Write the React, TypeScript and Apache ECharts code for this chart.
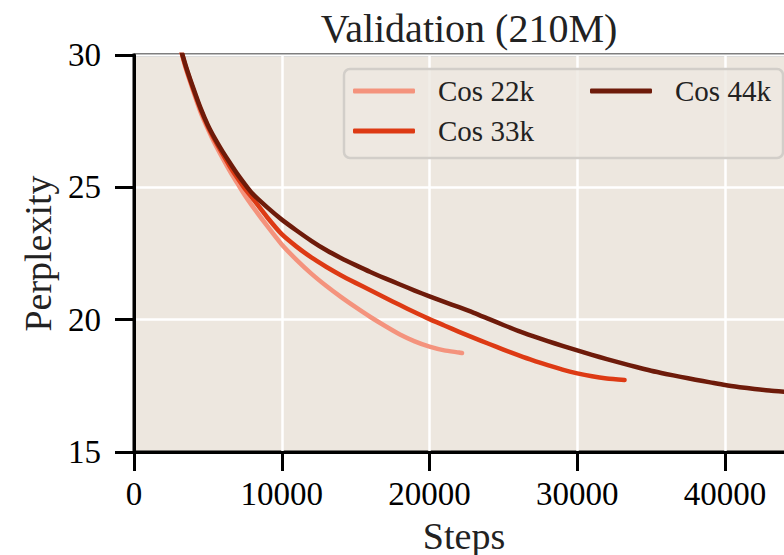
import React, { useEffect, useRef } from "react";
import * as echarts from "echarts";

const seriesNames = ["Cos 22k", "Cos 33k", "Cos 44k"];
const seriesColors = ["#f4937d", "#dd3a14", "#6e1b0a"];

const cos22kSteps = [3000, 3500, 4000, 4500, 5000, 5500, 6000, 6500, 7000, 7500, 8000, 9000, 10000, 11000, 12000, 13000, 14000, 15000, 16000, 17000, 18000, 19000, 20000, 21000, 22000, 22200];
const cos22kPpl = [30.55, 29.5, 28.65, 27.85, 27.2, 26.62, 26.1, 25.6, 25.15, 24.7, 24.3, 23.55, 22.84, 22.26, 21.74, 21.28, 20.86, 20.47, 20.1, 19.76, 19.44, 19.18, 18.98, 18.84, 18.76, 18.74];

const cos33kSteps = [3000, 3500, 4000, 4500, 5000, 5500, 6000, 6500, 7000, 7500, 8000, 9000, 10000, 11000, 12000, 13000, 14000, 15000, 16000, 17000, 18000, 19000, 20000, 21000, 22000, 23000, 24000, 25000, 26000, 27000, 28000, 29000, 30000, 31000, 32000, 33200];
const cos33kPpl = [30.55, 29.55, 28.72, 27.95, 27.3, 26.75, 26.25, 25.78, 25.35, 24.95, 24.6, 23.88, 23.23, 22.76, 22.35, 22.0, 21.68, 21.39, 21.11, 20.83, 20.55, 20.28, 20.02, 19.78, 19.54, 19.31, 19.09, 18.87, 18.66, 18.46, 18.28, 18.11, 17.97, 17.86, 17.78, 17.72];

const cos44kSteps = [3000, 3500, 4000, 4500, 5000, 5500, 6000, 6500, 7000, 7500, 8000, 9000, 10000, 11000, 12000, 13000, 14000, 15000, 16000, 17000, 18000, 19000, 20000, 21000, 22000, 23000, 24000, 25000, 26000, 27000, 28000, 29000, 30000, 31000, 32000, 33000, 34000, 35000, 36000, 37000, 38000, 39000, 40000, 41000, 42000, 43000, 44000];
const cos44kPpl = [30.55, 29.6, 28.77, 28.0, 27.35, 26.82, 26.35, 25.92, 25.5, 25.12, 24.77, 24.25, 23.78, 23.37, 22.98, 22.63, 22.33, 22.06, 21.8, 21.56, 21.33, 21.1, 20.88, 20.67, 20.47, 20.26, 20.03, 19.8, 19.58, 19.38, 19.19, 19.01, 18.84, 18.67, 18.51, 18.36, 18.21, 18.07, 17.95, 17.84, 17.73, 17.63, 17.53, 17.45, 17.38, 17.32, 17.28];

const stepsList = [cos22kSteps, cos33kSteps, cos44kSteps];
const pplList = [cos22kPpl, cos33kPpl, cos44kPpl];

const FONT = "Liberation Serif";

export default function App() {
  const ref = useRef<HTMLDivElement>(null);
  useEffect(() => {
    if (!ref.current) return;
    const chart = echarts.init(ref.current, null, { renderer: "svg" });
    const series = seriesNames.map((name, i) => ({
      name,
      type: "line",
      data: stepsList[i].map((s, j) => [s, pplList[i][j]]),
      showSymbol: false,
      symbol: "none",
      smooth: 0.2,
      clip: true,
      lineStyle: { color: seriesColors[i], width: 4.5, cap: "round", join: "round" },
      itemStyle: { color: seriesColors[i] },
      z: 2 + i,
    }));
    const legendBase = {
      orient: "vertical",
      top: 71,
      itemWidth: 62,
      itemHeight: 5,
      itemGap: 10,
      icon: "roundRect",
      textStyle: { fontFamily: FONT, fontSize: 29, color: "#222", lineHeight: 30, padding: [0, 0, 0, 18] },
      z: 10,
    };
    chart.setOption({
      animation: false,
      title: {
        text: "Validation (210M)",
        left: 464,
        top: 3,
        textAlign: "center",
        textStyle: { fontFamily: FONT, fontSize: 40, fontWeight: "normal", color: "#222" },
      },
      grid: {
        left: 134,
        top: 55,
        width: 660,
        height: 397,
        outerBoundsMode: "none",
        containLabel: false,
        show: true,
        backgroundColor: "#ede7df",
        borderColor: "#000",
        borderWidth: 3,
      },
      legend: [
        { ...legendBase, left: 348, data: ["Cos 22k", "Cos 33k"] },
        { ...legendBase, left: 585, data: ["Cos 44k"] },
      ],
      graphic: [
        {
          type: "rect",
          z: 5,
          shape: { x: 344, y: 69, width: 439, height: 89, r: 6 },
          style: { fill: "rgba(238,233,225,0.8)", stroke: "#d2cec9", lineWidth: 2.5 },
        },
      ],
      xAxis: {
        type: "value",
        min: 0,
        max: 44670,
        interval: 10000,
        name: "Steps",
        nameLocation: "middle",
        nameGap: 65,
        nameTextStyle: { fontFamily: FONT, fontSize: 38, color: "#222" },
        axisLine: { show: true, lineStyle: { color: "#000", width: 3 } },
        axisTick: { show: true, length: 19, lineStyle: { color: "#000", width: 3 } },
        axisLabel: {
          fontFamily: FONT,
          fontSize: 33,
          color: "#000",
          margin: 25,
          showMaxLabel: false,
          formatter: (v: number) => String(v),
        },
        splitLine: { show: true, lineStyle: { color: "#ffffff", width: 2.5 } },
      },
      yAxis: {
        type: "value",
        min: 15,
        max: 30,
        interval: 5,
        name: "Perplexity",
        nameLocation: "middle",
        nameGap: 76,
        nameTextStyle: { fontFamily: FONT, fontSize: 38, color: "#222" },
        axisLine: { show: true, lineStyle: { color: "#000", width: 3 } },
        axisTick: { show: true, length: 19, lineStyle: { color: "#000", width: 3 } },
        axisLabel: { fontFamily: FONT, fontSize: 33, color: "#000", margin: 33, formatter: (v: number) => String(v) },
        splitLine: { show: true, lineStyle: { color: "#ffffff", width: 2.5 } },
      },
      series,
    });
    return () => chart.dispose();
  }, []);
  return <div ref={ref} style={{ position: "absolute", left: 0, top: 0, width: 784, height: 555 }} />;
}
